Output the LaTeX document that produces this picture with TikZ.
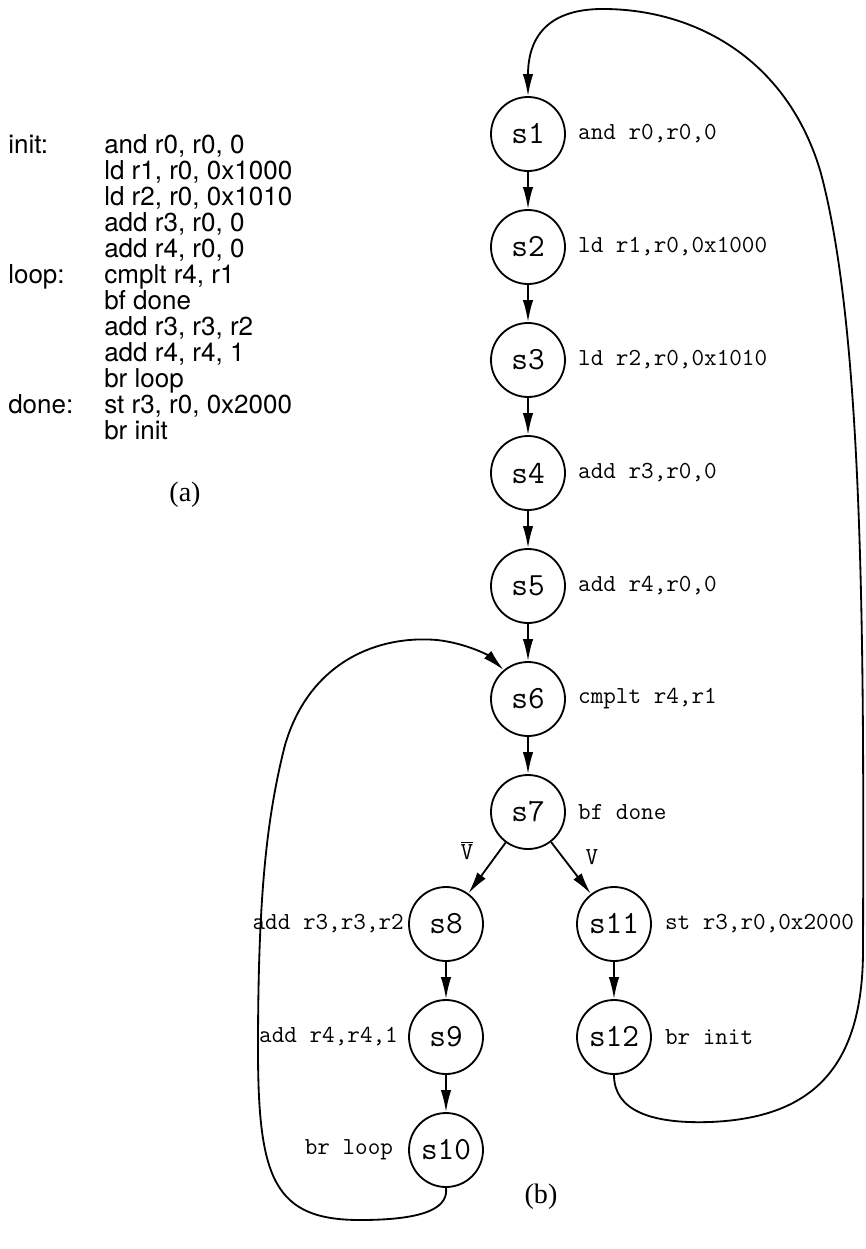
\documentclass[tikz,border=0pt]{standalone}
\usepackage{fontspec}
\setmainfont{Liberation Serif}
\newfontfamily\asmfont{TeX Gyre Heros}
\usetikzlibrary{arrows.meta, positioning, calc}

\begin{document}
\begin{tikzpicture}[x=0.25mm, y=-0.25mm,
  state/.style={circle, draw, line width=1.3pt, minimum size=18.5mm, inner sep=0pt,
                font=\fontsize{23}{23}\selectfont\ttfamily\addfontfeature{FakeBold=0.6}},
  instr/.style={inner sep=0pt, font=\fontsize{17.4}{18}\selectfont\ttfamily\addfontfeature{FakeBold=0.8}},
  asm/.style={inner sep=0pt, anchor=base west, font=\fontsize{18.5}{20}\selectfont\asmfont},
  figlbl/.style={inner sep=0pt, font=\fontsize{20}{20}\selectfont},
  flag/.style={inner sep=0pt, font=\fontsize{17.4}{18}\selectfont\ttfamily\addfontfeature{FakeBold=0.8}},
  arr/.style={-{Latex[length=5.5mm,width=2.6mm]}, line width=1.3pt}
]
  \useasboundingbox (0,0) rectangle (865,1249);

  % (a) assembly listing
  \node[asm] (tinit) at (8,153) {init:};
  \node[asm] (tloop) at (8,{153+26*5}) {loop:};
  \node[asm] (tdone) at (8,{153+26*10}) {done:};
  \foreach \ins [count=\n from 0] in {{and r0, r0, 0}, {ld r1, r0, 0x1000},
      {ld r2, r0, 0x1010}, {add r3, r0, 0}, {add r4, r0, 0}, {cmplt r4, r1},
      {bf done}, {add r3, r3, r2}, {add r4, r4, 1}, {br loop},
      {st r3, r0, 0x2000}, {br init}}
    \node[asm] (ins\n) at (104,{153+26*\n}) {\ins};
  \node[figlbl] (capa) at (185,495) {(a)};

  % (b) state graph
  \foreach \i in {1,...,7}
    \node[state] (s\i) at (528,{21+113*\i}) {s\i};
  \node[state] (s8)  at (446,924)  {s8};
  \node[state] (s9)  at (446,1037) {s9};
  \node[state] (s10) at (446,1150) {s10};
  \node[state] (s11) at (614,924)  {s11};
  \node[state] (s12) at (614,1037) {s12};

  \node[instr, right=3mm of s1] (l1) {and r0,r0,0};
  \node[instr, right=3mm of s2] (l2) {ld r1,r0,0x1000};
  \node[instr, right=3mm of s3] (l3) {ld r2,r0,0x1010};
  \node[instr, right=3mm of s4] (l4) {add r3,r0,0};
  \node[instr, right=3mm of s5] (l5) {add r4,r0,0};
  \node[instr, right=3mm of s6] (l6) {cmplt r4,r1};
  \node[instr, right=3mm of s7] (l7) {bf done};
  \node[instr, left=1mm of s8] (l8) {add r3,r3,r2};
  \node[instr, left=2.5mm of s9] (l9) {add r4,r4,1};
  \node[instr, left=3.7mm of s10] (l10) {br loop};
  \node[instr, right=3.2mm of s11] (l11) {st r3,r0,0x2000};
  \node[instr, right=3.2mm of s12] (l12) {br init};
  \node[figlbl] (capb) at (541,1197) {(b)};

  \foreach \a/\b in {s1/s2, s2/s3, s3/s4, s4/s5, s5/s6, s6/s7, s8/s9, s9/s10, s11/s12}
    \draw[arr] (\a) -- (\b);
  \draw[arr] (s7) -- node[flag, shift={(-5mm,4.4mm)}] (nv) {$\overline{\mbox{V}}$} (s8);
  \draw[arr] (s7) -- node[flag, shift={(5.2mm,2.6mm)}] (yv) {V} (s11);

  % back edges
  \draw[arr] (s10.south) .. controls (448,1205) and (432,1220) .. (360,1220)
    .. controls (275,1220) and (258,1180) .. (258,1050)
    .. controls (258,900) and (266,820) .. (285,745)
    .. controls (310,660) and (380,635) .. (437,640)
    .. controls (465,643) and (488,655) .. (s6.130);
  \draw[arr] (s12.south) .. controls (614,1110) and (650,1124) .. (710,1122)
    .. controls (810,1118) and (863,1070) .. (863,950)
    .. controls (864,650) and (864,330) .. (820,170)
    .. controls (785,55) and (690,8) .. (600,9)
    .. controls (545,10) and (528,40) .. (s1.north);
\end{tikzpicture}
\end{document}
